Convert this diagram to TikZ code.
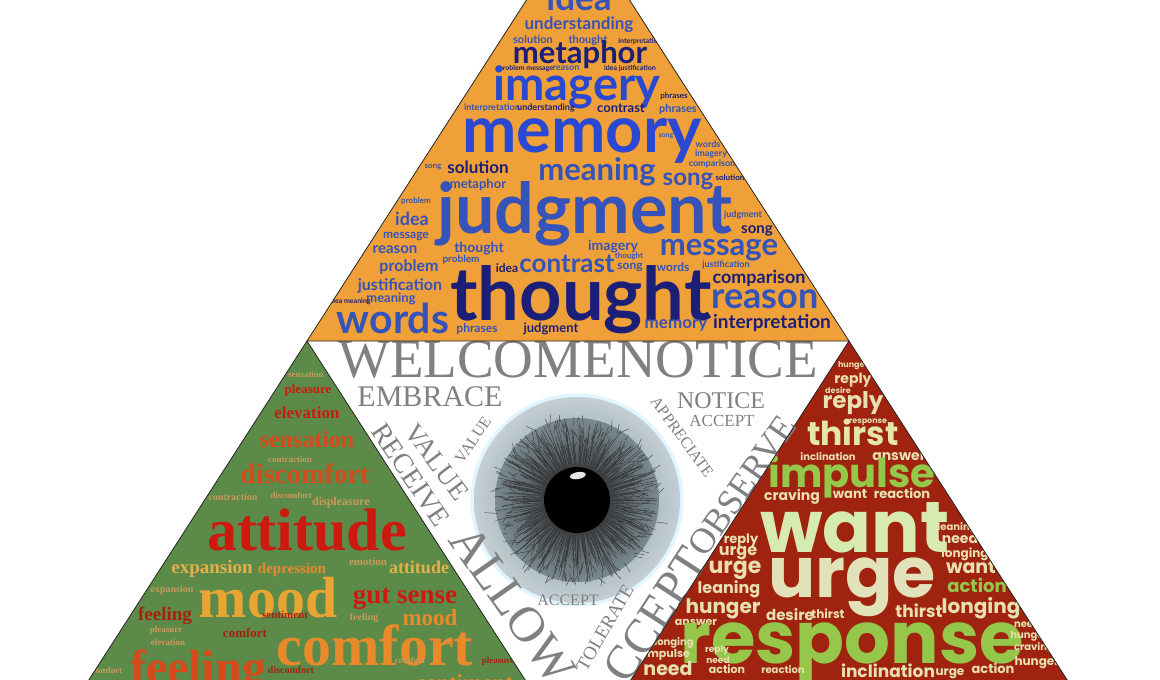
\documentclass[tikz,border=0pt]{standalone}
\usepackage{fontspec}
\newfontfamily\thinkfont{Lato}
\newfontfamily\feelfont{Liberation Serif}
\newfontfamily\wantfont{Poppins}
\newfontfamily\seefont{Liberation Serif}
\newcommand\wordsize[1]{\fontsize{#1}{#1}\selectfont}
\definecolor{thinkbg}{HTML}{EFA038}
\definecolor{feelbg}{HTML}{5C8A48}
\definecolor{wantbg}{HTML}{A0230F}
\definecolor{tbNavy}{HTML}{1B1F78}
\definecolor{tbMid}{HTML}{3553B8}
\definecolor{tbBright}{HTML}{2A48D2}
\definecolor{gRed}{HTML}{CC1A10}
\definecolor{gOrRed}{HTML}{D64A1C}
\definecolor{gOrange}{HTML}{E88A2C}
\definecolor{gGold}{HTML}{E8A534}
\definecolor{gYellow}{HTML}{E4B048}
\definecolor{gTan}{HTML}{C89A5A}
\definecolor{gDark}{HTML}{A8200E}
\definecolor{rMint}{HTML}{D7EBB0}
\definecolor{rBeige}{HTML}{E2E2BA}
\definecolor{rLime}{HTML}{95C84A}
\definecolor{rPale}{HTML}{E4E7A5}
\definecolor{rCream}{HTML}{E8E0B0}
\definecolor{seegray}{HTML}{808080}
\definecolor{irisIn}{HTML}{7A8A91}
\definecolor{irisOut}{HTML}{C3CFD4}
\begin{document}
\begin{tikzpicture}
  [x=1pt,y=-1pt,
   think/.style={anchor=base,inner sep=0pt,font=\thinkfont\bfseries},
   feel/.style={anchor=base,inner sep=0pt,font=\feelfont\bfseries},
   want/.style={anchor=base,inner sep=0pt,font=\wantfont\bfseries},
   see/.style={inner sep=0pt,text=seegray,font=\seefont},
   fiber/.style={black!80,line width=.35pt},
   edge/.style={black!85,line width=.8pt}]
  \useasboundingbox (0,0) rectangle (1160,680);
  \clip (0,0) rectangle (1160,680);

  \coordinate (apex) at (578,-80);
  \coordinate (tl) at (307,341);
  \coordinate (tr) at (849,341);
  \coordinate (bl) at (36,762);
  \coordinate (bm) at (578,762);
  \coordinate (br) at (1120,762);
  \coordinate (eye) at (577,500);
  \coordinate (seam) at (696,552);

  \fill[thinkbg] (apex) -- (tl) -- (tr) -- cycle;
  \fill[feelbg] (tl) -- (bl) -- (bm) -- cycle;
  \fill[wantbg] (tr) -- (bm) -- (br) -- cycle;

  % thinking
  \begin{scope}
    \clip (apex) -- (tl) -- (tr) -- cycle;
    \foreach \x/\y/\s/\c/\w [count=\i] in {579/10/35/tbMid/idea,
      579/30/17/tbMid/understanding, 533/43/11/tbMid/solution,
      588/43/11/tbMid/thought, 640/43/7/tbNavy/interpretation,
      580/63/31/tbNavy/metaphor, 526/70/7/tbNavy/problem message,
      566/70/9/tbMid/reason, 630/70/7/tbNavy/idea justification,
      577/100/47/tbBright/imagery, 674/98/8/tbNavy/phrases,
      492/110/9/tbMid/interpretation, 546/110/9/tbNavy/understanding,
      621/112/13/tbNavy/contrast, 678/112/11/tbMid/phrases,
      582/152/65/tbBright/memory, 666/137/7/tbMid/song,
      708/147/9/tbMid/words, 711/156/9/tbMid/imagery,
      712/166/9/tbMid/comparison, 730/180/8/tbNavy/solution,
      433/168/8/tbMid/song, 597/180/31/tbMid/meaning,
      478/173/17/tbNavy/solution, 688/185/24/tbMid/song,
      478/188/13/tbMid/metaphor, 416/203/8/tbMid/problem,
      585/233/70/tbMid/judgment, 743/217/9/tbMid/judgment,
      412/225/18/tbMid/idea, 406/238/12/tbMid/message,
      719/255/31/tbMid/message, 757/233/15/tbNavy/song,
      395/253/15/tbMid/reason, 479/252/14/tbMid/thought,
      613/250/14/tbMid/imagery, 461/262/10/tbMid/problem,
      726/267/9/tbMid/justification, 673/271/12/tbMid/words,
      630/269/12/tbMid/song, 629/258/8/tbMid/thought,
      567/272/26/tbMid/contrast,
      409/271/16/tbMid/problem, 507/272/12/tbNavy/idea,
      759/283/18/tbNavy/comparison, 400/290/16/tbMid/justification,
      391/302/13/tbMid/meaning, 350/303/7/tbNavy/idea meaning,
      581/320/74/tbNavy/thought, 765/308/36/tbMid/reason,
      772/328/19/tbNavy/interpretation, 676/328/17/tbMid/memory,
      393/333/41/tbMid/words, 477/332/12/tbMid/phrases,
      551/332/13/tbNavy/judgment}
      \node[think,text=\c] (top\i) at (\x,\y) {\wordsize{\s}\w};
  \end{scope}

  % feeling
  \begin{scope}
    \clip (tl) -- (bl) -- (bm) -- cycle;
    \foreach \x/\y/\s/\c/\w [count=\i] in {306/377/9/gTan/sensation,
      308/393/13/gRed/pleasure, 307/418/17/gRed/elevation,
      307/447/24/gOrRed/sensation, 290/462/9/gTan/contraction,
      305/483/28/gOrRed/discomfort, 233/500/10/gTan/contraction,
      291/498/9/gTan/discomfort, 341/505/12/gTan/displeasure,
      307/550/60/gRed/attitude, 212/573/19/gYellow/expansion,
      292/573/15/gOrange/depression, 368/565/11/gTan/emotion,
      419/573/18/gYellow/attitude, 268/617/58/gGold/mood,
      405/603/27/gRed/gut sense, 165/620/19/gDark/feeling,
      430/625/23/gOrange/mood, 198/683/48/gOrRed/feeling,
      375/665/58/gOrange/comfort, 465/690/23/gOrange/sentiment,
      166/632/9/gTan/pleasure, 168/645/9/gTan/elevation,
      107/673/9/gTan/comfort, 291/673/10/gDark/discomfort,
      245/637/13/gDark/comfort, 285/618/11/gDark/sentiment,
      410/663/9/gTan/comfort, 498/663/9/gDark/pleasure,
      172/592/10/gTan/expansion, 364/620/10/gTan/feeling}
      \node[feel,text=\c] (left\i) at (\x,\y) {\wordsize{\s}\w};
  \end{scope}

  % wanting
  \begin{scope}
    \clip (tr) -- (bm) -- (br) -- cycle;
    \foreach \x/\y/\s/\c/\w [count=\i] in {853/367/8/rCream/hunger,
      853/383/14/rCream/reply, 838/393/8/rCream/desire,
      853/408/23/rCream/reply, 868/423/8/rCream/response,
      853/445/33/rPale/thirst, 828/460/10/rCream/inclination,
      899/460/14/rCream/answer, 852/487/40/rLime/impulse,
      792/500/14/rCream/craving, 850/498/13/rCream/want,
      902/498/13/rCream/reaction, 855/552/72/rMint/want,
      741/543/13/rCream/reply, 738/555/16/rCream/urge,
      957/530/10/rCream/leaning, 960/543/14/rCream/need,
      965/557/12/rCream/longing, 735/573/22/rCream/urge,
      971/573/19/rCream/want, 852/597/70/rBeige/urge,
      729/593/16/rCream/leaning, 977/592/18/rLime/action,
      723/613/20/rCream/hunger, 790/620/15/rCream/desire,
      828/618/12/rCream/thirst, 919/617/17/rCream/thirst,
      981/613/20/rCream/longing, 696/625/11/rCream/answer,
      852/663/72/rLime/response, 674/645/10/rCream/longing,
      667/657/11/rCream/impulse, 717/652/9/rCream/reply,
      668/675/19/rCream/need, 718/663/9/rCream/need,
      727/673/11/rCream/action, 783/673/10/rCream/reaction,
      888/677/17/rCream/inclination, 950/675/12/rCream/urge,
      993/673/13/rCream/action, 1027/627/10/rCream/need,
      1029/638/10/rCream/hunger, 1034/650/10/rCream/craving,
      1037/665/12/rCream/hunger}
      \node[want,text=\c] (right\i) at (\x,\y) {\wordsize{\s}\w};
  \end{scope}

  % seeing
  \draw[white!88!cyan,line width=5pt] (eye) circle[radius=104pt];
  \shade[inner color=irisIn,outer color=irisOut] (eye) circle[radius=103pt];
  \shade[inner color=black!80,outer color=irisIn] (eye) circle[radius=82pt];
  \pgfmathsetseed{7}
  \foreach \a in {0,1,...,359}
    {\pgfmathsetmacro\r{18+34*rnd}
     \draw[fiber] (eye) ++(\a:33pt) -- ++({\a+10*rand}:\r pt);}
  \foreach \a in {0,1.2,...,359}
    {\pgfmathsetmacro\r{40+42*rnd}
     \draw[fiber] (eye) ++(\a:\r pt) -- ++({\a+35*rand}:{4pt+9pt*rnd});}
  \fill[black] (eye) circle[radius=33pt];
  \fill[white!80!gray,rotate=10] ([shift={(5pt,24pt)}]eye) ellipse[x radius=8pt,y radius=3.5pt];

  \foreach \x/\y/\s/\r/\w [count=\i] in {578/360/55/0/WELCOMENOTICE,
    430/397/30/0/EMBRACE, 721/401/24/0/NOTICE, 722/421/17/0/ACCEPT,
    682/437/16/-54/APPRECIATE, 605/628/19/60/TOLERATE,
    568/600/16/0/ACCEPT, 513/605/50/-55/ALLOW,
    411/475/28/-56/RECEIVE, 437/462/27/-53/VALUE,
    473/440/16/56/VALUE}
    \node[see,rotate=\r] (mid\i) at (\x,\y) {\wordsize{\s}\w};
  \node[see,rotate=57,anchor=east] (accept) at (seam) {\wordsize{48}ACCEPT};
  \node[see,rotate=55,anchor=west] (observe) at (seam) {\wordsize{36}OBSERVE};

  \draw[edge] (apex) -- (tl) -- (tr) -- cycle;
  \draw[edge] (tl) -- (bl) -- (bm) -- cycle;
  \draw[edge] (tr) -- (bm) -- (br) -- cycle;
\end{tikzpicture}
\end{document}
